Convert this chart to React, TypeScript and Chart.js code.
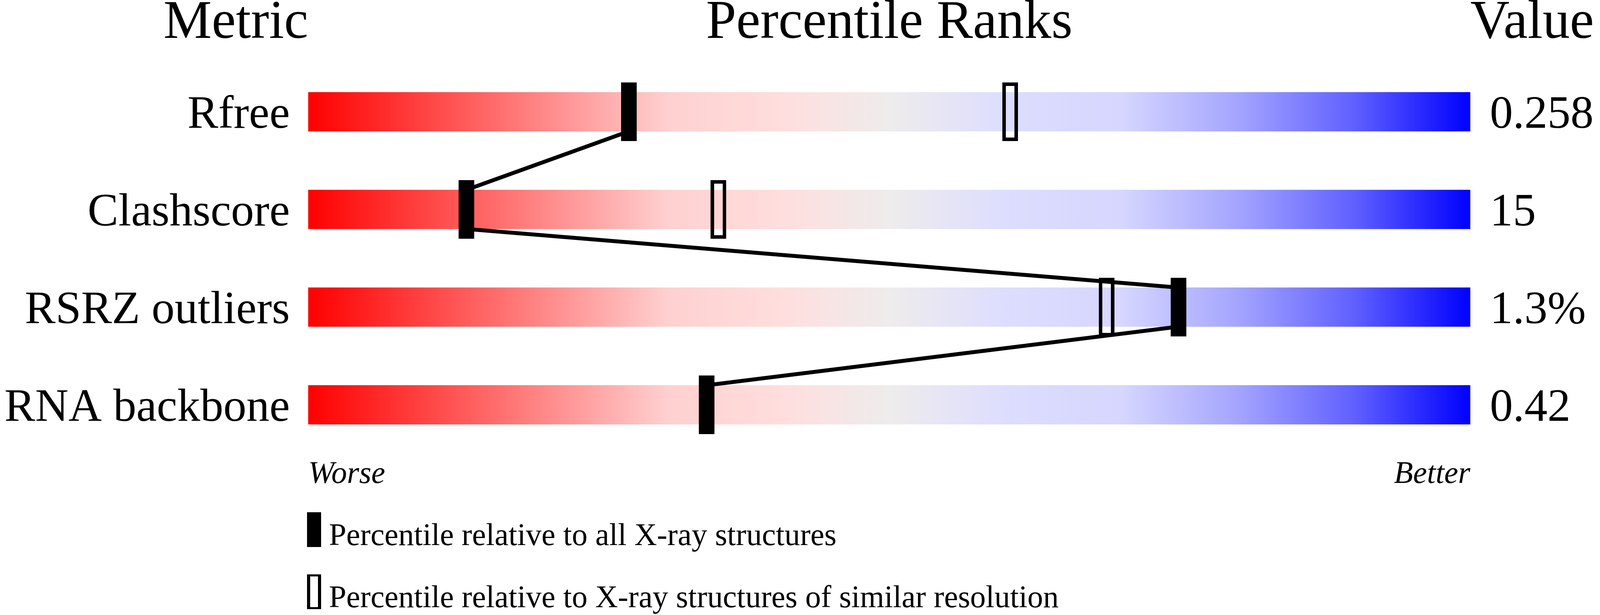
import { useEffect, useRef } from "react";
import { Chart, registerables, type Plugin } from "chart.js";

Chart.register(...registerables);

// rows, top to bottom
const metrics = ["Rfree", "Clashscore", "RSRZ outliers", "RNA backbone"];
const metricValues = ["0.258", "15", "1.3%", "0.42"];
// percentile vs all X-ray structures (solid marker)
const pctAll = [27.6, 13.6, 74.9, 34.3];
// percentile vs similar resolution (open marker), none for RNA backbone
const pctSimilar: (number | null)[] = [60.4, 35.3, 68.7, null];

const headers = ["Metric", "Percentile Ranks", "Value"];
const scaleEnds = ["Worse", "Better"];
const legendLabels = [
  "Percentile relative to all X-ray structures",
  "Percentile relative to X-ray structures of similar resolution",
];

const FONT = '"Liberation Serif", "Times New Roman", serif';
const BAR_HALF = 0.2; // half of the bar height, in row units

function makeMarker(open: boolean) {
  const c = document.createElement("canvas");
  c.width = 40;
  c.height = 150;
  const g = c.getContext("2d")!;
  g.fillStyle = "#000";
  g.fillRect(0, 0, c.width, c.height);
  if (open) g.clearRect(9, 9, c.width - 18, c.height - 18);
  return c;
}

function makeOverlay(solid: HTMLCanvasElement, open: HTMLCanvasElement): Plugin<"scatter"> {
  return {
    id: "overlay",
    afterDraw(chart) {
      const { ctx, chartArea: a } = chart;
      ctx.save();
      ctx.fillStyle = "#000";
      ctx.textBaseline = "alphabetic";

      ctx.font = `139px ${FONT}`;
      ctx.textAlign = "right";
      ctx.fillText(headers[0], a.left, 97);
      ctx.textAlign = "center";
      ctx.fillText(headers[1], (a.left + a.right) / 2, 97);
      ctx.textAlign = "left";
      ctx.fillText(headers[2], a.right, 97);

      ctx.font = `italic 80px ${FONT}`;
      ctx.textAlign = "left";
      ctx.fillText(scaleEnds[0], a.left, a.bottom - 50);
      ctx.textAlign = "right";
      ctx.fillText(scaleEnds[1], a.right, a.bottom - 50);

      // legend
      ctx.font = `80px ${FONT}`;
      ctx.textAlign = "left";
      [solid, open].forEach((img, i) => {
        const base = 1395 + i * 159;
        ctx.drawImage(img, a.left - 3, base + 5 - 89, 36, 89);
        ctx.fillText(legendLabels[i], a.left + 53, base);
      });
      ctx.restore();
    },
  };
}

export default function App() {
  const canvasRef = useRef<HTMLCanvasElement>(null);

  useEffect(() => {
    if (!canvasRef.current) return;
    const solidImg = makeMarker(false);
    const openImg = makeMarker(true);

    const rowTicks = (scale: any) => {
      scale.ticks = metrics.map((_, i) => ({ value: i }));
    };
    const fixWidth = (w: number) => (s: any) => {
      s.width = w;
      s.paddingTop = 0;
      s.paddingBottom = 0;
    };

    const linkPts = pctAll.flatMap((p, i) => {
      const pts: { x: number; y: number }[] = [];
      if (i > 0) pts.push({ x: p, y: i - BAR_HALF });
      if (i < pctAll.length - 1) pts.push({ x: p, y: i + BAR_HALF });
      return pts;
    });

    const chart = new Chart(canvasRef.current, {
      type: "scatter",
      data: {
        datasets: [
          {
            type: "scatter",
            label: legendLabels[0],
            data: pctAll.map((p, i) => ({ x: p, y: i })),
            pointStyle: solidImg,
            pointRadius: 1,
            order: 0,
          },
          {
            type: "scatter",
            label: legendLabels[1],
            data: pctSimilar
              .map((p, i) => (p == null ? null : { x: p, y: i }))
              .filter((d): d is { x: number; y: number } => d !== null),
            pointStyle: openImg,
            pointRadius: 1,
            order: 1,
          },
          {
            type: "scatter",
            label: "link",
            data: linkPts,
            showLine: true,
            borderColor: "#000",
            borderWidth: 10,
            borderJoinStyle: "bevel",
            pointRadius: 0,
            order: 2,
          },
          {
            type: "bar",
            label: "range",
            indexAxis: "y",
            data: metrics.map((_, i) => ({ x: [0, 100], y: i })) as any,
            barThickness: 100,
            borderWidth: 0,
            order: 3,
            backgroundColor: (c: any) => {
              const area = c.chart.chartArea;
              if (!area) return "#eee";
              const g = c.chart.ctx.createLinearGradient(area.left, 0, area.right, 0);
              g.addColorStop(0, "#FF0000");
              g.addColorStop(0.31, "#FFD0D0");
              g.addColorStop(0.41, "#FFDEDE");
              g.addColorStop(0.5, "#EEECEC");
              g.addColorStop(0.6, "#DDDDFF");
              g.addColorStop(0.7, "#D6D6FF");
              g.addColorStop(0.8, "#A4A4FF");
              g.addColorStop(0.9, "#6060FF");
              g.addColorStop(1, "#0000FF");
              return g;
            },
          } as any,
        ],
      },
      options: {
        animation: false,
        responsive: true,
        maintainAspectRatio: false,
        devicePixelRatio: 1,
        events: [],
        layout: { padding: { top: 36, bottom: 288, left: 0, right: 0 } },
        plugins: {
          legend: { display: false },
          tooltip: { enabled: false },
          title: { display: false },
        },
        scales: {
          x: { type: "linear", min: 0, max: 100, display: false, offset: false },
          y: {
            type: "linear",
            position: "left",
            min: -1,
            max: 4,
            reverse: true,
            offset: false,
            grid: { display: false, drawTicks: false },
            border: { display: false },
            afterBuildTicks: rowTicks,
            afterFit: fixWidth(789),
            ticks: {
              autoSkip: false,
              padding: 47,
              labelOffset: 10,
              color: "#000",
              font: { family: FONT, size: 118 },
              callback: (v: any) => metrics[v as number] ?? "",
            },
          },
          yValue: {
            type: "linear",
            position: "right",
            min: -1,
            max: 4,
            reverse: true,
            offset: false,
            grid: { display: false, drawTicks: false },
            border: { display: false },
            afterBuildTicks: rowTicks,
            afterFit: fixWidth(332),
            ticks: {
              autoSkip: false,
              padding: 50,
              labelOffset: 10,
              color: "#000",
              font: { family: FONT, size: 118 },
              callback: (v: any) => metricValues[v as number] ?? "",
            },
          },
        },
      },
      plugins: [makeOverlay(solidImg, openImg)],
    });

    return () => chart.destroy();
  }, []);

  return (
    <div style={{ position: "fixed", left: 0, top: 0, width: "100vw", height: "100vh", background: "#fff" }}>
      <canvas ref={canvasRef} />
    </div>
  );
}
